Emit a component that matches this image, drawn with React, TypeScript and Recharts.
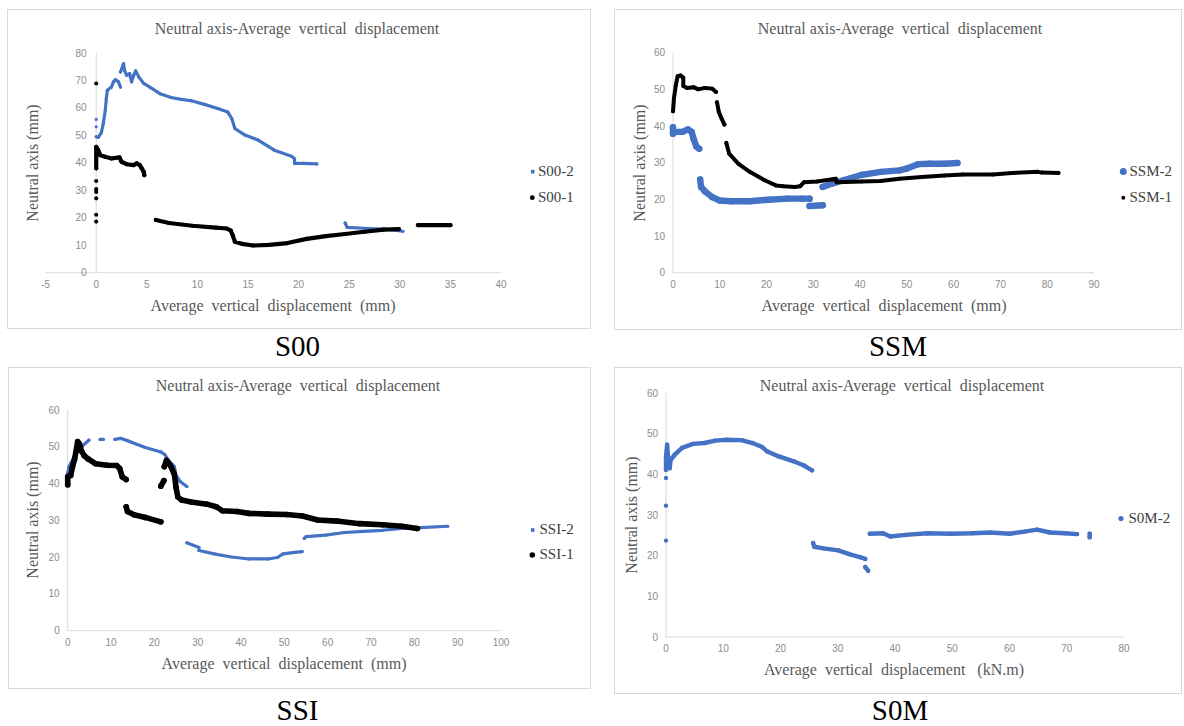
import React from "react";
import { ScatterChart, Scatter, XAxis, YAxis, ReferenceLine } from "recharts";

type Pt = [number, number];

const BLUE = "#4472C4";
const BLACK = "#000000";
const SERIF = "'Liberation Serif', 'Times New Roman', serif";
const SANS = "'Liberation Sans', Arial, sans-serif";
const TITLE = "Neutral axis-Average  vertical  displacement";
const Y_LABEL = "Neutral axis (mm)";

// ---------- S00 ----------
const s00XTicks = [-5, 0, 5, 10, 15, 20, 25, 30, 35, 40];
const s00YTicks = [0, 10, 20, 30, 40, 50, 60, 70, 80];
const s00_2_dots: Pt[] = [[0, 55.8], [0, 53.1]];
const s00_2_a: Pt[] = [
  [0, 49.5], [0.2, 49.3], [0.5, 50.9], [0.7, 54.3], [0.9, 59.2], [1.0, 63.4], [1.1, 66.4],
  [1.5, 67.6], [1.7, 69.5], [1.9, 70.3], [2.2, 69.5], [2.4, 67.6],
];
const s00_2_b: Pt[] = [
  [2.4, 73.1], [2.7, 76.1], [2.8, 73.7], [3.0, 71.9], [3.3, 72.5], [3.5, 69.5], [3.7, 71.9],
  [3.9, 73.5], [4.2, 71.3], [4.7, 68.9], [5.3, 67.6], [6.3, 65.2], [7.4, 63.8], [8.4, 63.1],
  [9.4, 62.6], [10.7, 61.3], [12.0, 59.8], [13.0, 58.5], [13.4, 56.1], [13.7, 52.5], [14.7, 50.1],
  [16.0, 48.3], [17.6, 44.6], [19.3, 42.4], [19.6, 41.5], [19.6, 39.8], [20.5, 39.8], [21.8, 39.6],
];
const s00_2_c: Pt[] = [[24.6, 18.1], [24.8, 16.5], [26.9, 16.1], [28.4, 15.9], [30.3, 15.1]];
const s00_1_dots: Pt[] = [[0, 68.9], [0, 33.4], [0, 30.4], [0, 29.4], [0, 27.1], [0, 21.1], [0, 18.6]];
const s00_1_a: Pt[] = [
  [0, 38], [0, 45.8], [0.2, 44.6], [0.4, 42.8], [0.9, 42.2], [1.5, 41.6], [2.3, 42.0], [2.5, 40.4],
  [3.0, 39.5], [3.7, 39.2], [4.0, 39.8], [4.3, 39.2], [4.5, 38.0], [4.7, 36.7], [4.75, 35.5],
];
const s00_1_b: Pt[] = [
  [5.9, 19.2], [7.2, 18.1], [9.5, 17.1], [11.8, 16.4], [12.9, 16.1], [13.3, 15.3], [13.5, 13.5],
  [13.7, 11.3], [14.4, 10.5], [15.5, 9.9], [17.1, 10.1], [18.9, 10.8], [20.8, 12.3], [22.7, 13.3],
  [24.6, 14.1], [26.5, 14.9], [28.4, 15.7], [29.9, 15.9],
];
const s00_1_c: Pt[] = [[31.8, 17.3], [35.0, 17.3]];

// ---------- SSM ----------
const ssmXTicks = [0, 10, 20, 30, 40, 50, 60, 70, 80, 90];
const ssmYTicks = [0, 10, 20, 30, 40, 50, 60];
const ssm_2_a: Pt[] = [
  [0, 39.7], [0, 37.9], [0.4, 38.4], [2.0, 38.4], [3.2, 39.1], [4.0, 38.4], [4.4, 36.5], [5.0, 34.4], [5.6, 33.8],
];
const ssm_2_b: Pt[] = [
  [5.8, 25.4], [6.0, 23.4], [6.8, 22.2], [8.4, 20.6], [10, 19.7], [12.4, 19.5], [16.4, 19.5],
  [20.4, 19.9], [24.4, 20.2], [27.6, 20.2], [29.2, 20.2],
];
const ssm_2_c: Pt[] = [[29.2, 18.2], [32.0, 18.4]];
const ssm_2_d: Pt[] = [
  [32.0, 23.4], [34, 24.3], [36.4, 25.2], [40.4, 26.7], [44.4, 27.5], [48.4, 27.9], [50, 28.4],
  [52.4, 29.6], [54.8, 29.7], [58, 29.7], [60.8, 29.9],
];
const ssm_1_a: Pt[] = [
  [0, 44], [0.2, 47.5], [0.6, 51.1], [1.0, 53.6], [1.6, 53.8], [2.2, 53.2], [2.2, 50.9], [3.0, 50.4],
  [4.4, 50.6], [5.4, 50.0], [6.8, 50.4], [8.4, 50.2], [9.2, 49.3],
];
const ssm_1_b: Pt[] = [[9.4, 46.5], [9.8, 43.8], [10.4, 42], [11, 40.4]];
const ssm_1_c: Pt[] = [
  [11.4, 35.4], [12, 32.5], [14, 29.7], [16.4, 27.5], [19.6, 25.2], [22, 23.8], [23.6, 23.6],
  [26, 23.4], [27.2, 23.6], [28, 24.7], [30.8, 24.9], [34.8, 25.6], [35, 24.7], [40.4, 24.9],
  [44.4, 25], [48.4, 25.6], [53.2, 26.1], [58, 26.5], [62, 26.8], [68.4, 26.8], [72.4, 27.2],
  [78, 27.5], [78.8, 27.3], [82.4, 27.2],
];

// ---------- SSI ----------
const ssiXTicks = [0, 10, 20, 30, 40, 50, 60, 70, 80, 90, 100];
const ssiYTicks = [0, 10, 20, 30, 40, 50, 60];
const ssi_2_a: Pt[] = [[0, 42.8], [0.3, 44.6], [1.1, 46.4], [2.0, 48.2], [3.4, 50.2], [4.9, 51.8]];
const ssi_2_b: Pt[] = [[7.5, 52], [8.2, 52.0]];
const ssi_2_c: Pt[] = [
  [10.9, 52.0], [12.2, 52.3], [14.4, 51.4], [17.9, 49.8], [21.5, 48.6], [22.4, 47.9], [23.2, 46.4],
  [24.6, 44.6], [25.0, 42.3], [25.9, 40.6], [27.5, 39.2],
];
const ssi_2_d: Pt[] = [[27.5, 23.9], [30.3, 22.6]];
const ssi_2_e: Pt[] = [
  [30.3, 21.8], [33.8, 20.9], [37.4, 20.1], [41.8, 19.5], [46.2, 19.5], [48.4, 19.9], [49.7, 20.9],
  [52.4, 21.3], [54.1, 21.5],
];
const ssi_2_f: Pt[] = [
  [54.6, 25.1], [55.0, 25.6], [59.5, 26.0], [63.9, 26.7], [68.3, 27.0], [72.7, 27.3], [77.1, 27.8],
  [81.5, 28.0], [87.7, 28.4],
];
const ssi_1_a: Pt[] = [
  [0, 39.7], [0, 41.9], [0.7, 42.2], [1.1, 44.5], [1.6, 46.7], [2.3, 51.4], [2.7, 50.8], [3.2, 48.8],
  [3.8, 47.6], [4.7, 46.7], [6.4, 45.4], [9.1, 45.0], [11.3, 44.9], [12.0, 44.1], [12.6, 41.8], [13.5, 41.1],
];
const ssi_1_b: Pt[] = [[13.5, 33.7], [13.8, 32.4], [15.3, 31.5], [17.9, 30.8], [21.5, 29.6]];
const ssi_1_c: Pt[] = [[21.5, 39.3], [22.2, 40.8]];
const ssi_1_d: Pt[] = [
  [22.3, 44.6], [22.8, 46.3], [23.7, 44.9], [24.6, 42.6], [25, 39], [25.4, 36.4], [26.3, 35.5],
  [28.5, 35.0], [32.1, 34.4], [34.3, 33.7], [35.7, 32.6], [39.1, 32.4], [41.8, 31.9], [46.2, 31.7],
  [50.6, 31.6], [54.2, 31.2], [57.7, 30.1], [62.1, 29.8], [67.4, 29.1], [72.7, 28.8], [77.1, 28.4], [80.7, 27.8],
];

// ---------- S0M ----------
const s0mXTicks = [0, 10, 20, 30, 40, 50, 60, 70, 80];
const s0mYTicks = [0, 10, 20, 30, 40, 50, 60];
const s0m_2_dots: Pt[] = [[0, 39.1], [0, 32.3], [0, 23.7]];
const s0m_2_a: Pt[] = [
  [0, 41.1], [0, 44.4], [0.2, 47.3], [0.4, 43.5], [0.2, 42], [0.65, 41.5], [0.8, 43.5], [1.5, 44.8],
  [2.8, 46.5], [4.7, 47.5], [6.7, 47.7], [8.6, 48.3], [10.6, 48.5], [13.2, 48.4], [15.1, 47.7],
  [16.8, 46.7], [17.7, 45.6], [19.7, 44.4], [22.3, 43.2], [24.2, 42.1], [25.5, 41.0],
];
const s0m_2_b: Pt[] = [[25.7, 23.1], [25.9, 22.2], [27.5, 21.8], [30.1, 21.3], [32.0, 20.4], [34.0, 19.6], [34.8, 19.2]];
const s0m_2_c: Pt[] = [[34.8, 17.2], [35.3, 16.3]];
const s0m_2_d: Pt[] = [
  [35.6, 25.4], [37.9, 25.5], [39.2, 24.7], [41.8, 25.1], [45.7, 25.5], [49.6, 25.4], [53.5, 25.5],
  [56.7, 25.7], [60, 25.4], [62.6, 25.9], [64.8, 26.4], [67.1, 25.7], [69.7, 25.5], [71.8, 25.3],
];
const s0m_2_e: Pt[] = [[74, 25.4], [74, 24.5]];

type Seg = { pts: Pt[]; joined: boolean };
type Series = {
  name: string;
  color: string;
  r: number;
  marker: "square" | "circle";
  mr: number;
  legend: { mx: number; my: number; tx: number; ty: number };
  segs: Seg[];
};
type Panel = {
  box: { l: number; t: number; w: number; h: number };
  plot: { l: number; t: number; r: number; b: number };
  xDomain: [number, number];
  xTicks: number[];
  yDomain: [number, number];
  yTicks: number[];
  yAtZero?: boolean;
  yTickDx?: number;
  title: [number, number];
  xLabel: string;
  xLabelPos: [number, number];
  yLabelPos: [number, number];
  caption: string;
  captionPos: [number, number];
  series: Series[];
};

const panels: Panel[] = [
  {
    box: { l: 7, t: 9, w: 583, h: 319 },
    plot: { l: 45.6, t: 53, r: 501, b: 272.7 },
    xDomain: [-5, 40], xTicks: s00XTicks, yDomain: [0, 80], yTicks: s00YTicks,
    yAtZero: true, yTickDx: 49,
    title: [297, 33.5],
    xLabel: "Average  vertical  displacement  (mm)", xLabelPos: [273, 311], yLabelPos: [38, 163],
    caption: "S00", captionPos: [297.5, 356.3],
    series: [
      {
        name: "S00-2", color: BLUE, r: 1.6, marker: "square", mr: 1.8,
        legend: { mx: 532.7, my: 171.7, tx: 538, ty: 175.5 },
        segs: [
          { pts: s00_2_dots, joined: false }, { pts: s00_2_a, joined: true },
          { pts: s00_2_b, joined: true }, { pts: s00_2_c, joined: true },
        ],
      },
      {
        name: "S00-1", color: BLACK, r: 2.1, marker: "circle", mr: 2.4,
        legend: { mx: 532.3, my: 197.7, tx: 538, ty: 201.5 },
        segs: [
          { pts: s00_1_dots, joined: false }, { pts: s00_1_a, joined: true },
          { pts: s00_1_b, joined: true }, { pts: s00_1_c, joined: true },
        ],
      },
    ],
  },
  {
    box: { l: 614, t: 9, w: 567, h: 320 },
    plot: { l: 673, t: 52.7, r: 1094, b: 272.7 },
    xDomain: [0, 90], xTicks: ssmXTicks, yDomain: [0, 60], yTicks: ssmYTicks,
    title: [900, 33.5],
    xLabel: "Average  vertical  displacement  (mm)", xLabelPos: [884, 311], yLabelPos: [645, 163],
    caption: "SSM", captionPos: [898, 356.3],
    series: [
      {
        name: "SSM-2", color: BLUE, r: 3.2, marker: "circle", mr: 3.5,
        legend: { mx: 1123.3, my: 171.5, tx: 1129.5, ty: 176 },
        segs: [
          { pts: ssm_2_a, joined: true }, { pts: ssm_2_b, joined: true },
          { pts: ssm_2_c, joined: true }, { pts: ssm_2_d, joined: true },
        ],
      },
      {
        name: "SSM-1", color: BLACK, r: 2.0, marker: "circle", mr: 2.0,
        legend: { mx: 1123.3, my: 197.7, tx: 1129.5, ty: 202 },
        segs: [
          { pts: ssm_1_a, joined: true }, { pts: ssm_1_b, joined: true }, { pts: ssm_1_c, joined: true },
        ],
      },
    ],
  },
  {
    box: { l: 8, t: 367, w: 582, h: 321 },
    plot: { l: 67.7, t: 410, r: 501, b: 630.7 },
    xDomain: [0, 100], xTicks: ssiXTicks, yDomain: [0, 60], yTicks: ssiYTicks,
    title: [298, 390.5],
    xLabel: "Average  vertical  displacement  (mm)", xLabelPos: [284, 669], yLabelPos: [38, 520],
    caption: "SSI", captionPos: [297.5, 720.3],
    series: [
      {
        name: "SSI-2", color: BLUE, r: 1.6, marker: "square", mr: 1.8,
        legend: { mx: 532.7, my: 530, tx: 539.5, ty: 534 },
        segs: [
          { pts: ssi_2_a, joined: true }, { pts: ssi_2_b, joined: true }, { pts: ssi_2_c, joined: true },
          { pts: ssi_2_d, joined: true }, { pts: ssi_2_e, joined: true }, { pts: ssi_2_f, joined: true },
        ],
      },
      {
        name: "SSI-1", color: BLACK, r: 2.8, marker: "circle", mr: 2.8,
        legend: { mx: 532.3, my: 555, tx: 539.5, ty: 559 },
        segs: [
          { pts: ssi_1_a, joined: true }, { pts: ssi_1_b, joined: true },
          { pts: ssi_1_c, joined: true }, { pts: ssi_1_d, joined: true },
        ],
      },
    ],
  },
  {
    box: { l: 614, t: 367, w: 567, h: 326 },
    plot: { l: 666, t: 393, r: 1124, b: 637 },
    xDomain: [0, 80], xTicks: s0mXTicks, yDomain: [0, 60], yTicks: s0mYTicks,
    title: [902, 390.5],
    xLabel: "Average  vertical  displacement   (kN.m)", xLabelPos: [894, 675], yLabelPos: [637, 515],
    caption: "S0M", captionPos: [900, 720.3],
    series: [
      {
        name: "S0M-2", color: BLUE, r: 2.2, marker: "circle", mr: 2.6,
        legend: { mx: 1121, my: 518.5, tx: 1128.5, ty: 523 },
        segs: [
          { pts: s0m_2_dots, joined: false }, { pts: s0m_2_a, joined: true }, { pts: s0m_2_b, joined: true },
          { pts: s0m_2_c, joined: true }, { pts: s0m_2_d, joined: true }, { pts: s0m_2_e, joined: true },
        ],
      },
    ],
  },
];

const toData = (pts: Pt[]) => pts.map(([x, y]) => ({ x, y }));

function ChartPanel({ p }: { p: Panel }) {
  const { box, plot } = p;
  const axisGray = "#d9d9d9";
  return (
    <div style={{ position: "absolute", left: box.l, top: box.t, width: box.w, height: box.h }}>
      <ScatterChart
        width={box.w}
        height={box.h}
        margin={{ top: plot.t - box.t, right: box.l + box.w - plot.r, bottom: 0, left: 0 }}
      >
        <XAxis
          type="number"
          dataKey="x"
          domain={p.xDomain}
          ticks={p.xTicks}
          interval={0}
          height={box.t + box.h - plot.b}
          axisLine={{ stroke: axisGray }}
          tickLine={false}
          tick={{ fill: "#8c8c8c", fontSize: 10, fontFamily: SANS }}
        />
        <YAxis
          type="number"
          dataKey="y"
          domain={p.yDomain}
          ticks={p.yTicks}
          interval={0}
          width={plot.l - box.l}
          axisLine={p.yAtZero ? false : { stroke: axisGray }}
          tickLine={false}
          tick={{ fill: "#8c8c8c", fontSize: 10, fontFamily: SANS, dx: p.yTickDx ?? 0 }}
        />
        {p.yAtZero && <ReferenceLine x={0} stroke={axisGray} />}
        {p.series.flatMap((s) =>
          s.segs.map((seg, i) => (
            <Scatter
              key={s.name + i}
              name={s.name}
              data={toData(seg.pts)}
              fill={s.color}
              line={
                seg.joined
                  ? { stroke: s.color, strokeWidth: s.r * 2, strokeLinecap: "round", strokeLinejoin: "round" }
                  : false
              }
              shape={(sp: any) => <circle cx={sp.cx} cy={sp.cy} r={s.r} fill={s.color} />}
              legendType="none"
              isAnimationActive={false}
            />
          ))
        )}
      </ScatterChart>
    </div>
  );
}

function Overlay() {
  return (
    <svg width={1184} height={726} style={{ position: "absolute", left: 0, top: 0, pointerEvents: "none" }}>
      {panels.map((p, k) => (
        <g key={k}>
          <rect x={p.box.l + 0.5} y={p.box.t + 0.5} width={p.box.w} height={p.box.h} fill="none" stroke="#d9d9d9" />
          <text x={p.title[0]} y={p.title[1]} textAnchor="middle" fontFamily={SERIF} fontSize={16} fill="#595959" style={{ whiteSpace: "pre" }}>
            {TITLE}
          </text>
          <text x={p.xLabelPos[0]} y={p.xLabelPos[1]} textAnchor="middle" fontFamily={SERIF} fontSize={16} fill="#595959" style={{ whiteSpace: "pre" }}>
            {p.xLabel}
          </text>
          <text
            x={p.yLabelPos[0]}
            y={p.yLabelPos[1]}
            textAnchor="middle"
            fontFamily={SERIF}
            fontSize={16}
            fill="#595959"
            transform={`rotate(-90 ${p.yLabelPos[0]} ${p.yLabelPos[1]})`}
          >
            {Y_LABEL}
          </text>
          <text x={p.captionPos[0]} y={p.captionPos[1]} textAnchor="middle" fontFamily={SERIF} fontSize={29} fill="#000">
            {p.caption}
          </text>
          {p.series.map((s) => (
            <g key={s.name}>
              {s.marker === "square" ? (
                <rect x={s.legend.mx - s.mr} y={s.legend.my - s.mr} width={s.mr * 2} height={s.mr * 2} fill={s.color} />
              ) : (
                <circle cx={s.legend.mx} cy={s.legend.my} r={s.mr} fill={s.color} />
              )}
              <text x={s.legend.tx} y={s.legend.ty} fontFamily={SERIF} fontSize={15} fill="#404040">
                {s.name}
              </text>
            </g>
          ))}
        </g>
      ))}
    </svg>
  );
}

export default function App() {
  return (
    <div style={{ position: "absolute", left: 0, top: 0, width: 1184, height: 726, background: "#fff", overflow: "hidden" }}>
      {panels.map((p, k) => (
        <ChartPanel key={k} p={p} />
      ))}
      <Overlay />
    </div>
  );
}
